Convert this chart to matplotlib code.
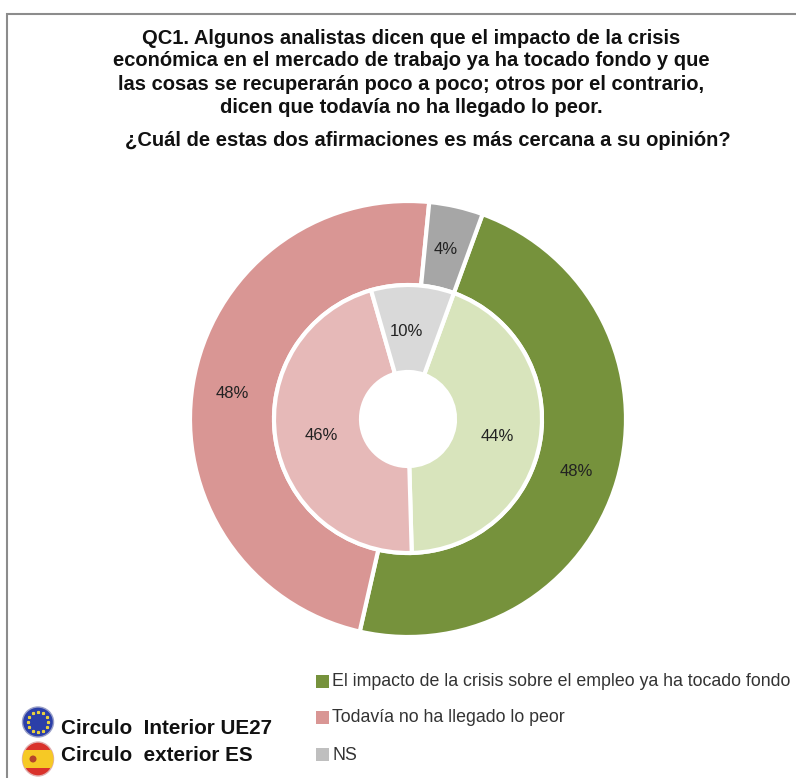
import numpy as np
import matplotlib
matplotlib.use("Agg")
import matplotlib.pyplot as plt
from matplotlib.patches import Circle, Ellipse, Rectangle

plt.rcParams['font.family'] = ['Liberation Sans', 'DejaVu Sans']

# Outer ring = ES, inner ring = UE27
categories = ["El impacto de la crisis sobre el empleo ya ha tocado fondo",
              "Todavía no ha llegado lo peor", "NS"]
outer_values = [48, 48, 4]
inner_values = [44, 46, 10]
outer_colors = ['#76923C', '#D99694', '#A6A6A6']
inner_colors = ['#D8E4BC', '#E6B9B8', '#D9D9D9']
legend_colors = ['#76923C', '#D99694', '#BFBFBF']

title_lines = ["QC1. Algunos analistas dicen que el impacto de la crisis",
               "económica en el mercado de trabajo ya ha tocado fondo y que",
               "las cosas se recuperarán poco a poco; otros por el contrario,",
               "dicen que todavía no ha llegado lo peor."]
question = "¿Cuál de estas dos afirmaciones es más cercana a su opinión?"

W, H = 796, 778
fig = plt.figure(figsize=(W / 100, H / 100), dpi=100)
ax = fig.add_axes([0, 0, 1, 1])

def py(y):
    # pixel row to data y
    return H - y

center = (408, py(419))

_, _, outer_labels = ax.pie(outer_values, colors=outer_colors, radius=218, center=center, startangle=70,
       counterclock=False, frame=True,
       wedgeprops=dict(width=84, edgecolor='white', linewidth=3),
       autopct='%d%%', pctdistance=0.81, textprops=dict(fontsize=12, color='#222222'))
_, _, inner_labels = ax.pie(inner_values, colors=inner_colors, radius=134, center=center, startangle=70,
       counterclock=False, frame=True,
       wedgeprops=dict(width=87, edgecolor='white', linewidth=3),
       autopct='%d%%', pctdistance=0.68, textprops=dict(fontsize=12, color='#222222'))

# nudge the labels to where the original has them
for t in outer_labels + inner_labels:
    x, y = t.get_position()
    t.set_position((x - 1, y - 2.5))
x, y = inner_labels[2].get_position()
inner_labels[2].set_position((x - 4, y - 1))
x, y = inner_labels[1].get_position()
inner_labels[1].set_position((x + 4, y))

ax.set_xlim(0, W)
ax.set_ylim(0, H)
ax.axis('off')

# chart frame, runs off the right and bottom edge
ax.add_patch(Rectangle((7, -10), W + 20, py(14) + 10, fill=False, edgecolor='#8C8C8C', linewidth=1.5))

for y, line in zip([38, 60, 84, 107], title_lines):
    ax.text(411.5, py(y), line, ha='center', va='center', fontsize=14.5, fontweight='bold', color='#111111')
ax.text(428, py(140), question, ha='center', va='center', fontsize=14.5, fontweight='bold', color='#111111')

# legend
for y, name, col in zip([681, 717, 754], categories, legend_colors):
    ax.add_patch(Rectangle((316, py(y) - 6.5), 13, 13, facecolor=col, edgecolor='none'))
    ax.text(332, py(y + 1), name, ha='left', va='center', fontsize=12.8, color='#333333')

# ring key with small flags
ax.text(61, py(728), "Circulo  Interior UE27", ha='left', va='center', fontsize=14.9, fontweight='bold', color='#111111')
ax.text(61, py(755.5), "Circulo  exterior ES", ha='left', va='center', fontsize=14.9, fontweight='bold', color='#111111')

ax.add_patch(Ellipse((38, py(722)), 31, 30, facecolor='#2B3FA8', edgecolor='#9AA0C8', linewidth=1))
for a in np.arange(0, 360, 30):
    ax.plot(38 + 10 * np.cos(np.radians(a)), py(722) + 10 * np.sin(np.radians(a)),
            marker='*', color='#E8D040', markersize=2, linestyle='none')

ax.add_patch(Ellipse((38, py(759)), 31, 34, facecolor='#D9322B', edgecolor='#E0B0B0', linewidth=1))
flag_band = Rectangle((22, py(768)), 32, 18, facecolor='#F6C925', edgecolor='none')
ax.add_patch(flag_band)
flag_band.set_clip_path(Ellipse((38, py(759)), 31, 34, transform=ax.transData))
ax.add_patch(Circle((33, py(759)), 3.5, facecolor='#B5452A', edgecolor='none'))

fig.savefig("out.png", dpi=100)
